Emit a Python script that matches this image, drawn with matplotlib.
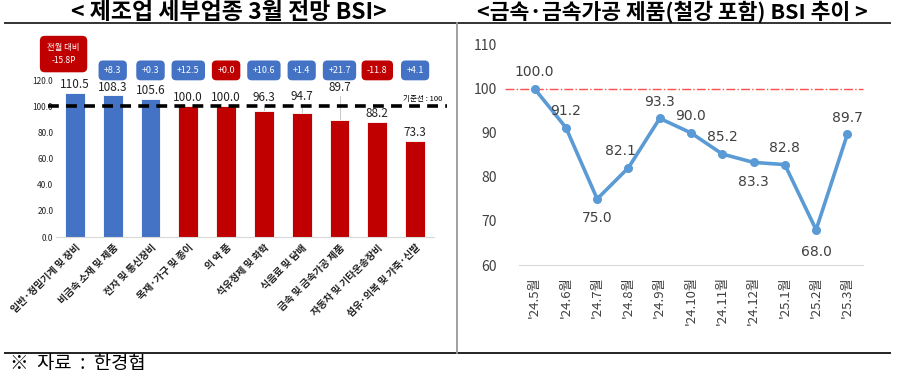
import matplotlib
matplotlib.use("Agg")
import matplotlib.pyplot as plt
from matplotlib.lines import Line2D

plt.rcParams['font.family'] = ['Noto Sans CJK KR', 'DejaVu Sans']

# left panel: sector BSI for March
sectors = ["일반·정밀기계 및 장비", "비금속 소재 및 제품", "전자 및 통신장비",
           "목재·가구 및 종이", "의 약 품", "석유정제 및 화학", "식음료 및 담배",
           "금속 및 금속가공 제품", "자동차 및 기타운송장비", "섬유·의복 및 가죽·신발"]
bsi = [110.5, 108.3, 105.6, 100.0, 100.0, 96.3, 94.7, 89.7, 88.2, 73.3]
change = [-15.8, 8.3, 0.3, 12.5, 0.0, 10.6, 1.4, 21.7, -11.8, 4.1]
above_base = [True, True, True, False, False, False, False, False, False, False]
change_up = [False, True, True, True, False, True, True, True, False, True]

# right panel: metal products BSI trend
months = ["'24.5월", "'24.6월", "'24.7월", "'24.8월", "'24.9월", "'24.10월",
          "'24.11월", "'24.12월", "'25.1월", "'25.2월", "'25.3월"]
metal = [100.0, 91.2, 75.0, 82.1, 93.3, 90.0, 85.2, 83.3, 82.8, 68.0, 89.7]

BLUE = "#4472C4"
RED = "#C00000"
W, H = 906, 377

fig = plt.figure(figsize=(9.06, 3.77), dpi=100)

def fx(px):
    return px / W

def fy(py):
    return 1 - py / H

# ---- frame lines and titles
fig.add_artist(Line2D([fx(5), fx(890)], [fy(23), fy(23)], color="#333333", lw=1.4))
fig.add_artist(Line2D([fx(5), fx(890)], [fy(353), fy(353)], color="#222222", lw=1.4))
fig.add_artist(Line2D([fx(457), fx(457)], [fy(23), fy(353)], color="#999999", lw=1.3))
fig.text(fx(229), fy(19), "< 제조업 세부업종 3월 전망 BSI>", ha="center", va="baseline",
         fontsize=16.5, fontweight="heavy")
fig.text(fx(672), fy(19), "<금속·금속가공 제품(철강 포함) BSI 추이 >", ha="center",
         va="baseline", fontsize=15.5, fontweight="heavy")
fig.text(fx(10), fy(364), "※  자료  :  한경협", ha="left", va="center", fontsize=13.5)

# ---- left bar chart
ax = fig.add_axes([fx(56), fy(237), fx(378), 196 / H])
x = range(len(sectors))
ax.bar(x, bsi, width=0.52, color=[BLUE if a else RED for a in above_base],
       edgecolor="white", linewidth=0.6, zorder=2)
ax.set_xlim(-0.5, len(sectors) - 0.5)
ax.set_ylim(0, 150)
ax.set_yticks([0, 20, 40, 60, 80, 100, 120])
ax.set_yticklabels([f"{v:.1f}" for v in [0, 20, 40, 60, 80, 100, 120]],
                   fontsize=6, color="#222222")
ax.set_xticks(list(x))
ax.set_xticklabels(sectors, rotation=45, ha="right", rotation_mode="anchor",
                   fontsize=7.2, fontweight="bold", color="#222222")
ax.tick_params(axis="both", length=0, pad=2)
ax.tick_params(axis="x", pad=4)
for s in ["top", "right", "left"]:
    ax.spines[s].set_visible(False)
ax.spines["bottom"].set_color("#d9d9d9")
ax.axhline(100, xmin=-0.02, xmax=1.035, color="black", lw=2.6, ls=(0, (3, 2)),
           zorder=3, clip_on=False)
ax.text(9.2, 105.5, "기준선 : 100", ha="center", va="center", fontsize=5.5)

# value labels (some lifted with leader lines)
lift = {5: 4, 6: 6, 7: 18}
for i, v in enumerate(bsi):
    dy = lift.get(i, 0)
    if dy:
        ax.plot([i, i], [v, v + dy], color="#bfbfbf", lw=0.6, zorder=1)
    ax.text(i, v + dy + 1.5, f"{v:.1f}", ha="center", va="bottom", fontsize=8.5,
            color="#222222", zorder=4)

# change boxes
for i, c in enumerate(change):
    col = BLUE if change_up[i] else RED
    if i == 0:
        ax.text(i - 0.3, 140, f"전월 대비\n{c:.1f}P", ha="center", va="center",
                fontsize=6, color="white", linespacing=1.5,
                bbox=dict(boxstyle="round,pad=0.9,rounding_size=0.6", fc=col, ec="none"))
    else:
        ax.text(i, 127.5, f"{c:+.1f}", ha="center", va="center", fontsize=6.5,
                color="white",
                bbox=dict(boxstyle="round,pad=0.6,rounding_size=0.5", fc=col, ec="none"))

# ---- right line chart
ax2 = fig.add_axes([fx(519), fy(265), fx(344), 229 / H])
xm = range(len(months))
ax2.plot(xm, metal, color="#5B9BD5", lw=2.6, marker="o", ms=5.5, zorder=3)
ax2.axhline(100, xmin=-0.04, xmax=1.0, color="#FF5050", lw=1.0, ls="-.", zorder=1,
            clip_on=False)
ax2.set_xlim(-0.5, len(months) - 0.5)
ax2.set_ylim(60, 112)
ax2.set_yticks([60, 70, 80, 90, 100, 110])
ax2.set_yticklabels(["60", "70", "80", "90", "100", "110"], fontsize=10,
                    color="#404040")
ax2.set_xticks(list(xm))
ax2.set_xticklabels(months, rotation=90, fontsize=9.5, color="#404040")
ax2.tick_params(axis="both", length=0)
ax2.tick_params(axis="y", pad=16)
ax2.tick_params(axis="x", pad=8)
for s in ["top", "right", "left"]:
    ax2.spines[s].set_visible(False)
ax2.spines["bottom"].set_color("#d9d9d9")

# point labels: (dx, dy) offsets in points
offs = [(0, 12), (0, 12), (0, -14), (-6, 12), (0, 12), (0, 12), (0, 12),
        (0, -14), (0, 12), (0, -16), (0, 12)]
for i, v in enumerate(metal):
    dx, dy = offs[i]
    ax2.annotate(f"{v:.1f}", (i, v), xytext=(dx, dy), textcoords="offset points",
                 ha="center", va="center", fontsize=10, color="#404040",
                 family=["DejaVu Sans"])

fig.savefig("out.png", dpi=100)
